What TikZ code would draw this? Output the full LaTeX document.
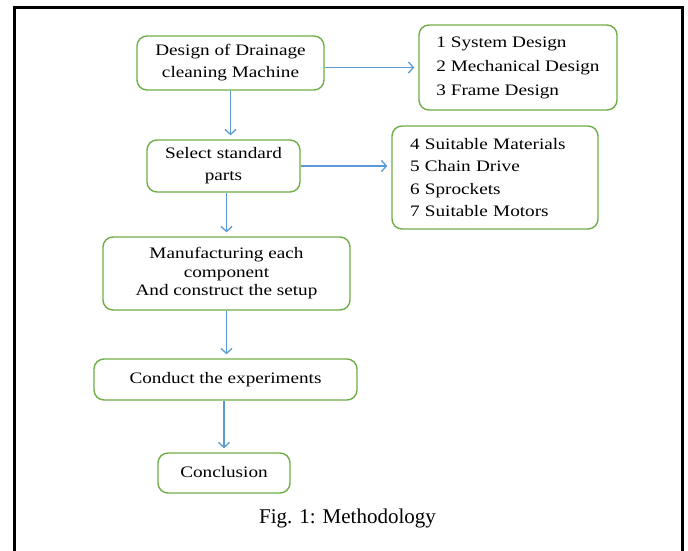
\documentclass[tikz,border=0pt]{standalone}
\usepackage{fontspec}
\setmainfont{Liberation Serif}
\newfontfamily\boxfont[FakeStretch=1.2]{Liberation Serif}
\usetikzlibrary{arrows.meta}
\definecolor{boxgreen}{RGB}{112,173,71}
\definecolor{arrowblue}{RGB}{91,155,213}
\tikzset{
  stepbox/.style={draw=boxgreen, line width=1.4pt, rounded corners=10pt, fill=white, align=center, inner sep=0pt, font=\boxfont\fontsize{16}{22}\selectfont},
  listbox/.style={stepbox, align=left},
  flow/.style={draw=arrowblue, line width=1.3pt, -{Straight Barb[length=5pt,width=11pt]}, shorten >=4pt}
}

\begin{document}
\begin{tikzpicture}[x=1pt,y=-1pt]
\useasboundingbox (0,0) rectangle (688,551);
\draw[line width=3pt] (14,551) -- (14,8) -- (682,8) -- (682,551);
\node[stepbox, minimum width=187pt, minimum height=54pt] (design) at (230.5,63) {Design of Drainage\\cleaning Machine};
\node[listbox, minimum width=198pt, minimum height=85pt, font=\boxfont\fontsize{16}{24}\selectfont] (designlist) at (518,67.5) {1 System Design\\2 Mechanical Design\\3 Frame Design};
\node[stepbox, minimum width=153pt, minimum height=52pt] (select) at (223.5,166) {Select standard\\parts};
\node[listbox, inner xsep=18pt, text width=170pt, minimum height=103pt, font=\boxfont\fontsize{16}{22.5}\selectfont] (partlist) at (495,177.5) {4 Suitable Materials\\5 Chain Drive\\6 Sprockets\\7 Suitable Motors};
\node[stepbox, minimum width=247pt, minimum height=73pt, font=\boxfont\fontsize{16}{18.5}\selectfont] (make) at (226.5,273.5) {Manufacturing each\\component\\And construct the setup};
\node[stepbox, minimum width=263pt, minimum height=41pt] (conduct) at (225.5,379.5) {\raisebox{3pt}{Conduct the experiments}};
\node[stepbox, minimum width=132pt, minimum height=40pt] (conclusion) at (224,473) {\raisebox{3pt}{Conclusion}};
\node[font=\fontsize{21}{25}\selectfont, anchor=base] (caption) at (347.5,523) {Fig. 1: Methodology};
\draw[flow] (design.east |- designlist.west) -- (designlist.west);
\draw[flow] (select.east) -- (select.east -| partlist.west);
\draw[flow] (design.south) -- (design.south |- select.north);
\draw[flow] (make.north |- select.south) -- (make.north);
\draw[flow] (make.south) -- (make.south |- conduct.north);
\draw[flow] (conclusion.north |- conduct.south) -- (conclusion.north);
\end{tikzpicture}
\end{document}
